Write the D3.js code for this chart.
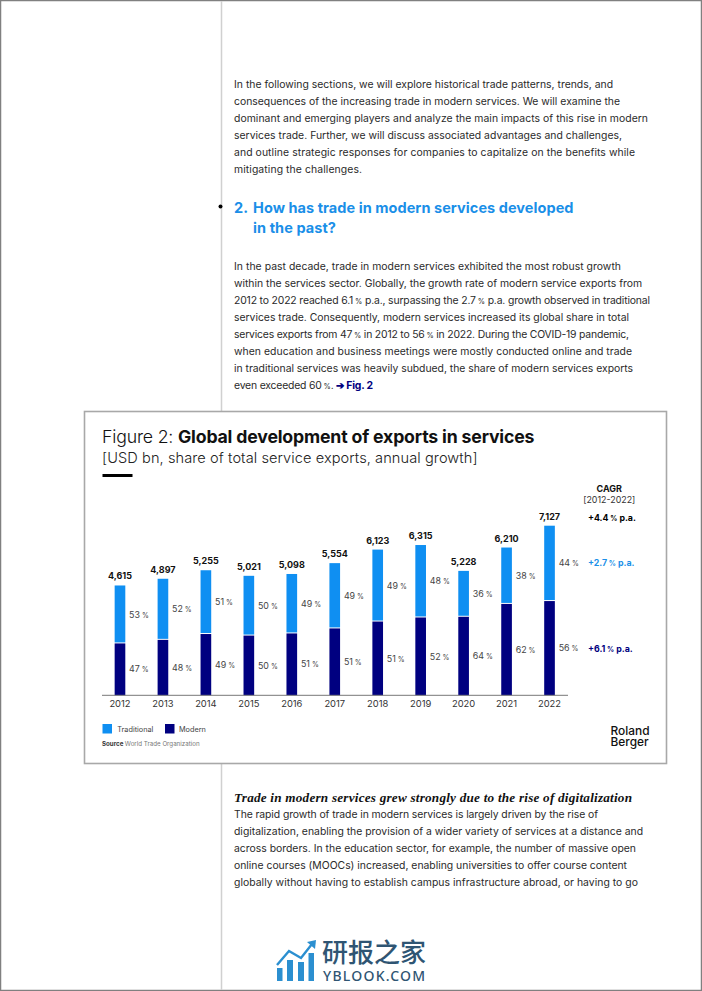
<!DOCTYPE html>
<html><head><meta charset="utf-8">
<script src="https://cdn.jsdelivr.net/npm/d3@7"></script>
<style>html,body{margin:0;padding:0;background:#fff}svg{display:block}text{font-family:Inter,"Noto Sans",sans-serif}</style>
</head><body><div id="c"></div>
<script>
const years=[2012,2013,2014,2015,2016,2017,2018,2019,2020,2021,2022];
const totals=[4615,4897,5255,5021,5098,5554,6123,6315,5228,6210,7127];
const modern=[2180,2330,2575,2510,2600,2810,3100,3270,3300,3840,3960];
const modernShare=["47","48","49","50","51","51","51","52","64","62","56"];
const traditionalShare=["53","52","51","50","49","49","49","48","36","38","44"];
const cagr=[["+4.4 % p.a.","#000",518.3],["+2.7 % p.a.","#1a8fe8",563],["+6.1 % p.a.","#000080",648.6]];
const introLines=["In the following sections, we will explore historical trade patterns, trends, and","consequences of the increasing trade in modern services. We will examine the","dominant and emerging players and analyze the main impacts of this rise in modern","services trade. Further, we will discuss associated advantages and challenges,","and outline strategic responses for companies to capitalize on the benefits while","mitigating the challenges."];
const para2Lines=["In the past decade, trade in modern services exhibited the most robust growth","within the services sector. Globally, the growth rate of modern service exports from","2012 to 2022 reached 6.1 % p.a., surpassing the 2.7 % p.a. growth observed in traditional","services trade. Consequently, modern services increased its global share in total","services exports from 47 % in 2012 to 56 % in 2022. During the COVID-19 pandemic,","when education and business meetings were mostly conducted online and trade","in traditional services was heavily subdued, the share of modern services exports","even exceeded 60 %. "];
const para3Lines=["The rapid growth of trade in modern services is largely driven by the rise of","digitalization, enabling the provision of a wider variety of services at a distance and","across borders. In the education sector, for example, the number of massive open","online courses (MOOCs) increased, enabling universities to offer course content","globally without having to establish campus infrastructure abroad, or having to go"];
const introEnds=[613,620,648,622,635,362];
const para2Ends=[621,642,650,629,629,632,633,373];
const para3Ends=[598,643,636,627,638];

const W=702,H=991,BLUE="#0f8ff2",NAVY="#000080",INK="#2a2a2a";
const svg=d3.select("#c").append("svg").attr("width",W).attr("height",H);
svg.append("rect").attr("x",.5).attr("y",.5).attr("width",W-1).attr("height",H-1).attr("fill","#fff").attr("stroke","#808080").attr("stroke-width",1.5);
svg.append("line").attr("x1",221.5).attr("x2",221.5).attr("y1",1).attr("y2",H-1).attr("stroke","#d0d0d0").attr("stroke-width",1.5);

function withPct(sel,str,pct){
  str.split(" %").forEach((part,i,a)=>{
    sel.append("tspan").text(part);
    if(i<a.length-1) sel.append("tspan").attr("font-size",pct).text(" %");
  });
}
function spread(node,target,x0){
  const n=node.getNumberOfChars(),len=node.getComputedTextLength();
  d3.select(node).attr("letter-spacing",(target-x0-len)/(n-1));
}
function block(lines,ends,y0,tail){
  lines.forEach((t,i)=>{
    const e=svg.append("text").attr("x",234).attr("y",y0+i*17.02).attr("font-size",10.4).attr("fill",INK);
    withPct(e,t,7.4);
    if(tail&&i===lines.length-1) e.append("tspan").attr("font-weight",700).attr("fill",NAVY).text(tail);
    spread(e.node(),ends[i],234);
  });
}
block(introLines,introEnds,88);
block(para2Lines,para2Ends,270,"➔ Fig. 2");
svg.append("circle").attr("cx",220.5).attr("cy",206.5).attr("r",2).attr("fill","#000");
const hd=svg.append("g").attr("font-size",14.5).attr("font-weight",700);
hd.append("text").attr("x",234).attr("y",213).attr("fill","#1a8fe8").text("2.");
const h1=hd.append("text").attr("x",253).attr("y",213).attr("fill","#1a8fe8").text("How has trade in modern services developed");
const h2=hd.append("text").attr("x",253).attr("y",233).attr("fill","#1a8fe8").text("in the past?");
spread(h1.node(),573.5,253);
spread(h2.node(),336,253);

// figure box
svg.append("rect").attr("x",84.5).attr("y",411.5).attr("width",582).attr("height",352).attr("fill","#fff").attr("stroke","#a8a8a8").attr("stroke-width",1.6);
const tt=svg.append("text").attr("x",102).attr("y",443).attr("font-size",17.7).attr("fill","#111");
tt.append("tspan").attr("font-weight",300).text("Figure 2: ");
tt.append("tspan").attr("font-weight",700).text("Global development of exports in services");
spread(tt.node(),534.5,102);
const st=svg.append("text").attr("x",102).attr("y",462.5).attr("font-size",14.6).attr("font-weight",300).attr("fill","#222").text("[USD bn, share of total service exports, annual growth]");
spread(st.node(),477.5,102);
svg.append("rect").attr("x",102.5).attr("y",474).attr("width",30).attr("height",3).attr("fill","#000");

// chart
const x=d3.scaleBand().domain(years).range([98.5,571]).paddingInner(.752).paddingOuter(.376);
const y=d3.scaleLinear().domain([0,7127]).range([695.3,525.7]);
const rows=years.map((yr,i)=>({yr,i}));
const bw=x.bandwidth();
svg.append("g").selectAll("rect").data(rows).join("rect").attr("x",d=>x(d.yr)).attr("width",bw)
  .attr("y",d=>y(modern[d.i])).attr("height",d=>y(0)-y(modern[d.i])).attr("fill",NAVY);
svg.append("g").selectAll("rect").data(rows).join("rect").attr("x",d=>x(d.yr)).attr("width",bw)
  .attr("y",d=>y(totals[d.i])).attr("height",d=>y(modern[d.i])-y(totals[d.i])-1).attr("fill",BLUE);
const axis=d3.axisBottom(x).tickSize(0).tickPadding(5.5);
const ax=svg.append("g").attr("transform","translate(0,695.3)").call(axis);
ax.select(".domain").attr("d","M102,0H568").attr("stroke","#777").attr("stroke-width",1);
ax.selectAll("text").attr("font-size",9.4).attr("fill","#333").attr("font-weight",400);
svg.append("g").selectAll("text").data(rows).join("text").attr("text-anchor","middle").attr("x",d=>x(d.yr)+bw/2).attr("y",d=>y(totals[d.i])-6)
  .attr("font-size",9).attr("font-weight",700).attr("fill","#111").text(d=>totals[d.i].toLocaleString("en-US"));
const shareLabel=(arr,mid)=>svg.append("g").selectAll("text").data(rows).join("text").attr("x",d=>x(d.yr)+bw+3.8).attr("y",mid).attr("dy","0.35em")
  .attr("font-size",8.9).attr("fill","#444").each(function(d){withPct(d3.select(this),arr[d.i]+" %",7);});
shareLabel(traditionalShare,d=>(y(totals[d.i])+y(modern[d.i]))/2);
shareLabel(modernShare,d=>(y(0)+y(modern[d.i]))/2);

// CAGR
svg.append("text").attr("x",609.3).attr("y",492).attr("text-anchor","middle").attr("font-size",9).attr("font-weight",700).attr("fill","#111").text("CAGR");
svg.append("text").attr("x",609.3).attr("y",503).attr("text-anchor","middle").attr("font-size",8.9).attr("fill","#333").text("[2012-2022]");
svg.append("g").selectAll("text").data(cagr).join("text").attr("x",588).attr("y",d=>d[2]).attr("dy","0.35em").attr("font-size",8.8).attr("font-weight",700).attr("fill",d=>d[1]).each(function(d){withPct(d3.select(this),d[0],7);});

// legend
const legend=[["Traditional",BLUE,102.5,117.3],["Modern",NAVY,165,179]];
const lg=svg.append("g").selectAll("g").data(legend).join("g");
lg.append("rect").attr("x",d=>d[2]).attr("y",724).attr("width",9.5).attr("height",9.5).attr("fill",d=>d[1]);
lg.append("text").attr("x",d=>d[3]).attr("y",731.7).attr("font-size",7.3).attr("fill","#444").text(d=>d[0]);
const src=svg.append("text").attr("x",102).attr("y",745.5).attr("font-size",6.2).attr("fill","#777");
src.append("tspan").attr("font-weight",700).attr("fill","#333").text("Source ");
src.append("tspan").text("World Trade Organization");
const rb=svg.append("text").attr("font-size",11.9).attr("font-weight",500).attr("fill","#111");
rb.append("tspan").attr("x",610.5).attr("y",735).text("Roland");
rb.append("tspan").attr("x",610.5).attr("y",745.8).text("Berger");

// lower text
const ih=svg.append("text").attr("x",234).attr("y",801.5).attr("font-size",13.2).attr("font-weight",700).attr("font-style","italic").attr("fill","#111").style("font-family","'Liberation Serif',serif").text("Trade in modern services grew strongly due to the rise of digitalization");
spread(ih.node(),632,234);
block(para3Lines,para3Ends,818);

// watermark
const wm=svg.append("g");
wm.append("g").attr("fill","#2b8fd0").selectAll("rect").data([[277,968,5.5,13],[287,960,6,21],[298,962,6,19],[308.5,953,5.5,28]]).join("rect").attr("x",d=>d[0]).attr("y",d=>d[1]).attr("width",d=>d[2]).attr("height",d=>d[3]);
wm.append("path").attr("d","M277,965L289,951L301,958L312,944").attr("fill","none").attr("stroke","#2b8fd0").attr("stroke-width",2.4);
wm.append("path").attr("d","M307,942L316,940L315,949Z").attr("fill","#2b8fd0");
const wt=wm.append("text").attr("fill","#2f5573");
wt.append("tspan").attr("x",322).attr("y",962).attr("font-size",26).attr("font-weight",500).style("font-family","'Noto Sans CJK SC',sans-serif").text("研报之家");
wt.append("tspan").attr("x",323).attr("y",980.5).attr("font-size",14).attr("font-weight",500).attr("letter-spacing",1.25).style("font-family","'Noto Sans',sans-serif").text("YBLOOK.COM");
</script></body></html>
